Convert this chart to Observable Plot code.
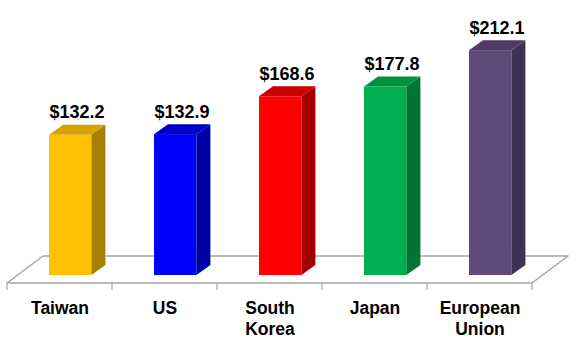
<!DOCTYPE html>
<html><head><meta charset="utf-8">
<script src="https://cdn.jsdelivr.net/npm/d3@7"></script>
<script src="https://cdn.jsdelivr.net/npm/@observablehq/plot@0.6"></script>
<style>body{margin:0;background:#fff} svg{display:block}</style>
</head><body><div id="chart"></div>
<script>
const categories = ["Taiwan", "US", "South Korea", "Japan", "European Union"];
const tickLabels = ["Taiwan", "US", "South\nKorea", "Japan", "European\nUnion"];
const values = [132.2, 132.9, 168.6, 177.8, 212.1];
const frontColors = ["#FFC000", "#0000FF", "#FF0000", "#00B050", "#604A7B"];
const topColors = ["#D6A300", "#0000CC", "#CC0000", "#00913F", "#4E3C66"];
const sideColors = ["#A68000", "#0000A3", "#A30000", "#007536", "#3F3152"];

const data = categories.map((c, i) => ({
  category: c, label: tickLabels[i], value: values[i],
  front: frontColors[i], top: topColors[i], side: sideColors[i]
}));

// 3D geometry (pixels)
const FRONT_DX = 10.7, FRONT_DY = -8, INSET = 31.3;
const DEPTH_DX = 14, DEPTH_DY = -10;
const FLOOR_DX = 36, FLOOR_DY = -27;
const FONT = "'Liberation Sans', Arial, sans-serif";

function bandwidthOf(sx) {
  return typeof sx.bandwidth === "function" ? sx.bandwidth() : sx.bandwidth;
}

function floorMark(index, scales) {
  const sx = scales.x, sy = scales.y;
  const bw = bandwidthOf(sx);
  const x0 = sx(categories[0]);
  const x1 = sx(categories[categories.length - 1]) + bw;
  const y0 = sy(0);
  const g = d3.create("svg:g");
  g.append("path")
    .attr("d", `M${x0},${y0}L${x1},${y0}L${x1 + FLOOR_DX},${y0 + FLOOR_DY}L${x0 + FLOOR_DX},${y0 + FLOOR_DY}Z`)
    .attr("fill", "none").attr("stroke", "#A6A6A6").attr("stroke-width", 1.5)
    .attr("stroke-linejoin", "round");
  const edges = categories.map(c => sx(c)).concat([x1]);
  g.selectAll("line.tick").data(edges).join("line")
    .attr("x1", d => d).attr("x2", d => d)
    .attr("y1", y0).attr("y2", y0 + 7)
    .attr("stroke", "#A6A6A6").attr("stroke-width", 1.2);
  return g.node();
}

function depthFaces(index, scales) {
  const sx = scales.x, sy = scales.y;
  const bw = bandwidthOf(sx);
  const g = d3.create("svg:g");
  for (const d of data) {
    const xf0 = sx(d.category) + INSET + FRONT_DX;
    const xf1 = sx(d.category) + bw - INSET + FRONT_DX;
    const yT = sy(d.value) + FRONT_DY;
    const yB = sy(0) + FRONT_DY;
    g.append("path")
      .attr("d", `M${xf1},${yT}L${xf1 + DEPTH_DX},${yT + DEPTH_DY}L${xf1 + DEPTH_DX},${yB + DEPTH_DY}L${xf1},${yB}Z`)
      .attr("fill", d.side);
    g.append("path")
      .attr("d", `M${xf0},${yT}L${xf1},${yT}L${xf1 + DEPTH_DX},${yT + DEPTH_DY}L${xf0 + DEPTH_DX},${yT + DEPTH_DY}Z`)
      .attr("fill", d.top);
  }
  return g.node();
}

const chart = Plot.plot({
  width: 577,
  height: 349,
  marginLeft: 5,
  marginRight: 44,
  marginTop: 18,
  marginBottom: 66,
  x: {domain: categories, padding: 0, axis: null},
  y: {domain: [0, 250], axis: null},
  style: {fontFamily: FONT, background: "white"},
  marks: [
    floorMark,
    Plot.barY(data, {
      x: "category", y: "value", fill: d => d.front,
      insetLeft: INSET, insetRight: INSET, dx: FRONT_DX, dy: FRONT_DY
    }),
    depthFaces,
    Plot.text(data, {
      x: "category", y: "value", text: d => "$" + d.value.toFixed(1),
      dx: 17, dy: FRONT_DY - 17, lineAnchor: "bottom",
      fontSize: 18, fontWeight: "bold", fill: "#000"
    }),
    Plot.text(data, {
      x: "category", y: d => 0, text: "label",
      dy: 16, lineAnchor: "top", lineHeight: 1.2,
      fontSize: 17.5, fontWeight: "bold", fill: "#000"
    })
  ]
});
document.getElementById("chart").appendChild(chart);
</script>
</body></html>
